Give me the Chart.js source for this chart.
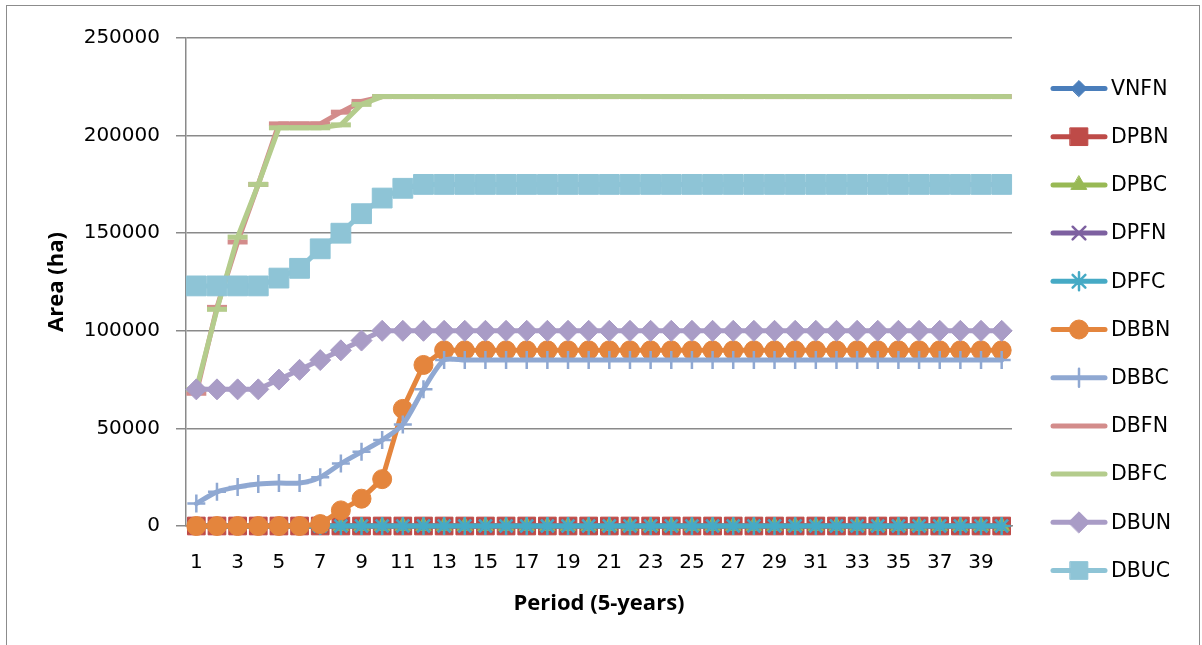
<!DOCTYPE html>
<html>
<head>
<meta charset="utf-8">
<script src="https://cdn.jsdelivr.net/npm/chart.js@4/dist/chart.umd.min.js"></script>
<style>
  html, body { margin: 0; padding: 0; background: #fff; }
  #wrap { width: 1202px; height: 645px; }
</style>
</head>
<body>
<div id="wrap"><canvas id="chart" width="1202" height="645"></canvas></div>
<script>
// periods 1..40
const periods = ['1','2','3','4','5','6','7','8','9','10','11','12','13','14','15','16','17','18','19','20',
                 '21','22','23','24','25','26','27','28','29','30','31','32','33','34','35','36','37','38','39','40'];
const yTicks = [0, 50000, 100000, 150000, 200000, 250000];

const seriesNames = ['VNFN', 'DPBN', 'DPBC', 'DPFN', 'DPFC', 'DBBN', 'DBBC', 'DBFN', 'DBFC', 'DBUN', 'DBUC'];

const vnfn = [0,0,0,0,0,0,0,0,0,0, 0,0,0,0,0,0,0,0,0,0, 0,0,0,0,0,0,0,0,0,0, 0,0,0,0,0,0,0,0,0,0];
const dpbn = [0,0,0,0,0,0,0,0,0,0, 0,0,0,0,0,0,0,0,0,0, 0,0,0,0,0,0,0,0,0,0, 0,0,0,0,0,0,0,0,0,0];
const dpbc = [0,0,0,0,0,0,0,0,0,0, 0,0,0,0,0,0,0,0,0,0, 0,0,0,0,0,0,0,0,0,0, 0,0,0,0,0,0,0,0,0,0];
const dpfn = [0,0,0,0,0,0,0,0,0,0, 0,0,0,0,0,0,0,0,0,0, 0,0,0,0,0,0,0,0,0,0, 0,0,0,0,0,0,0,0,0,0];
const dpfc = [0,0,0,0,0,0,0,0,0,0, 0,0,0,0,0,0,0,0,0,0, 0,0,0,0,0,0,0,0,0,0, 0,0,0,0,0,0,0,0,0,0];
const dbbn = [0,0,0,0,0,0,1000,8000,14000,24000, 60000,82500,90000,90000,90000,90000,90000,90000,90000,90000,
              90000,90000,90000,90000,90000,90000,90000,90000,90000,90000, 90000,90000,90000,90000,90000,90000,90000,90000,90000,90000];
const dbbc = [11500,17500,20000,21500,22000,22000,25000,32000,38000,44000, 52000,70000,85000,85000,85000,85000,85000,85000,85000,85000,
              85000,85000,85000,85000,85000,85000,85000,85000,85000,85000, 85000,85000,85000,85000,85000,85000,85000,85000,85000,85000];
const dbfn = [68000,112000,145500,175000,206000,206000,206000,212000,217500,220000, 220000,220000,220000,220000,220000,220000,220000,220000,220000,220000,
              220000,220000,220000,220000,220000,220000,220000,220000,220000,220000, 220000,220000,220000,220000,220000,220000,220000,220000,220000,220000];
const dbfc = [70000,111000,148000,175000,204000,204000,204000,205500,216000,220000, 220000,220000,220000,220000,220000,220000,220000,220000,220000,220000,
              220000,220000,220000,220000,220000,220000,220000,220000,220000,220000, 220000,220000,220000,220000,220000,220000,220000,220000,220000,220000];
const dbun = [70000,70000,70000,70000,75000,80000,85000,90000,95000,100000, 100000,100000,100000,100000,100000,100000,100000,100000,100000,100000,
              100000,100000,100000,100000,100000,100000,100000,100000,100000,100000, 100000,100000,100000,100000,100000,100000,100000,100000,100000,100000];
const dbuc = [123000,123000,123000,123000,127000,132000,142000,150000,160000,168000, 173000,175000,175000,175000,175000,175000,175000,175000,175000,175000,
              175000,175000,175000,175000,175000,175000,175000,175000,175000,175000, 175000,175000,175000,175000,175000,175000,175000,175000,175000,175000];

const seriesValues = [vnfn, dpbn, dpbc, dpfn, dpfc, dbbn, dbbc, dbfn, dbfc, dbun, dbuc];

// look of each series (Excel 2007 style)
const styles = [
  { color: '#4A7EBB', point: 'rectRot',  r: 8,  bw: 1 },
  { color: '#BE4B48', point: 'rect',     r: 12.5, bw: 1 },
  { color: '#98B954', point: 'triangle', r: 9,  bw: 1 },
  { color: '#7D60A0', point: 'crossRot', r: 9,  bw: 2.5 },
  { color: '#46AAC5', point: 'star',     r: 9,  bw: 2.5 },
  { color: '#E4853D', point: 'circle',   r: 9.5, bw: 1 },
  { color: '#8FA8D2', point: 'cross',    r: 9,  bw: 2.5, tension: 0.25 },
  { color: '#D38C8B', point: 'line',     r: 10, bw: 5 },
  { color: '#B4CC8C', point: 'line',     r: 10, bw: 5 },
  { color: '#A99CC6', point: 'rectRot',  r: 10.5, bw: 1 },
  { color: '#8EC4D6', point: 'rect',     r: 14, bw: 1 }
];

const datasets = seriesNames.map((name, i) => ({
  label: name,
  data: seriesValues[i],
  borderColor: styles[i].color,
  backgroundColor: styles[i].color,
  pointBackgroundColor: styles[i].color,
  pointBorderColor: styles[i].color,
  pointStyle: styles[i].point,
  pointRadius: styles[i].r,
  pointBorderWidth: styles[i].bw,
  borderWidth: 5,
  borderJoinStyle: 'round',
  borderCapStyle: 'round',
  tension: styles[i].tension || 0,
  clip: false,
  order: seriesNames.length - i   // later series on top, like Excel
}));

const tickFont = { family: 'DejaVu Sans', size: 20 };
const titleFont = { family: 'Open Sans', size: 22, weight: 'bold' };
const axisGray = '#8A8A8A';

// legend on the right: line sample + marker + name
const sideLegend = {
  id: 'sideLegend',
  afterDraw(chart) {
    const ctx = chart.ctx;
    ctx.save();
    chart.data.datasets.forEach((ds, i) => {
      const y = 88.5 + i * 48.2;
      ctx.strokeStyle = ds.borderColor;
      ctx.lineWidth = 5;
      ctx.lineCap = 'round';
      ctx.beginPath();
      ctx.moveTo(1053, y);
      ctx.lineTo(1105, y);
      ctx.stroke();
      if (ds.pointStyle !== 'line') {
        ctx.fillStyle = ds.pointBackgroundColor;
        ctx.strokeStyle = ds.pointBorderColor;
        ctx.lineWidth = ds.pointBorderWidth;
        Chart.helpers.drawPoint(ctx, {
          pointStyle: ds.pointStyle,
          radius: Math.min(ds.pointRadius, 12.5),
          borderWidth: ds.pointBorderWidth,
          rotation: 0
        }, 1079, y);
      }
      ctx.fillStyle = '#000';
      ctx.font = '20.5px "DejaVu Sans"';
      ctx.textAlign = 'left';
      ctx.textBaseline = 'middle';
      ctx.fillText(ds.label, 1111, y + 1);
    });
    // outer chart frame
    ctx.strokeStyle = '#8C8C8C';
    ctx.lineWidth = 1;
    ctx.strokeRect(6.5, 5.5, 1193, 660);
    ctx.restore();
  }
};

new Chart(document.getElementById('chart').getContext('2d'), {
  type: 'line',
  data: { labels: periods, datasets: datasets },
  options: {
    responsive: false,
    animation: false,
    layout: { padding: { top: 38, right: 190, left: 0, bottom: 0 } },
    plugins: {
      legend: { display: false },
      tooltip: { enabled: false }
    },
    scales: {
      x: {
        offset: true,
        afterFit: (scale) => { scale.height = 119; },
        grid: { display: false, drawTicks: false },
        border: { display: true, color: axisGray, width: 1.5 },
        ticks: {
          autoSkip: false,
          maxRotation: 0,
          padding: 25,
          color: '#000',
          font: tickFont,
          callback: (v, idx) => (idx % 2 === 0 ? periods[idx] : '')
        },
        title: {
          display: true,
          text: 'Period (5-years)',
          color: '#000',
          font: titleFont,
          padding: { top: 0, bottom: 28 }
        }
      },
      y: {
        min: yTicks[0],
        max: yTicks[yTicks.length - 1],
        afterFit: (scale) => { scale.width = 186; },
        afterBuildTicks: (scale) => { scale.ticks = yTicks.map(v => ({ value: v })); },
        grid: { color: axisGray, lineWidth: 1.5, tickLength: 10, drawTicks: true },
        border: { display: true, color: axisGray, width: 1.5 },
        ticks: {
          padding: 16,
          color: '#000',
          font: tickFont,
          callback: (v) => String(v)
        },
        title: {
          display: true,
          text: 'Area (ha)',
          color: '#000',
          font: titleFont,
          padding: { top: 44, bottom: 0 }
        }
      }
    }
  },
  plugins: [sideLegend]
});
</script>
</body>
</html>
